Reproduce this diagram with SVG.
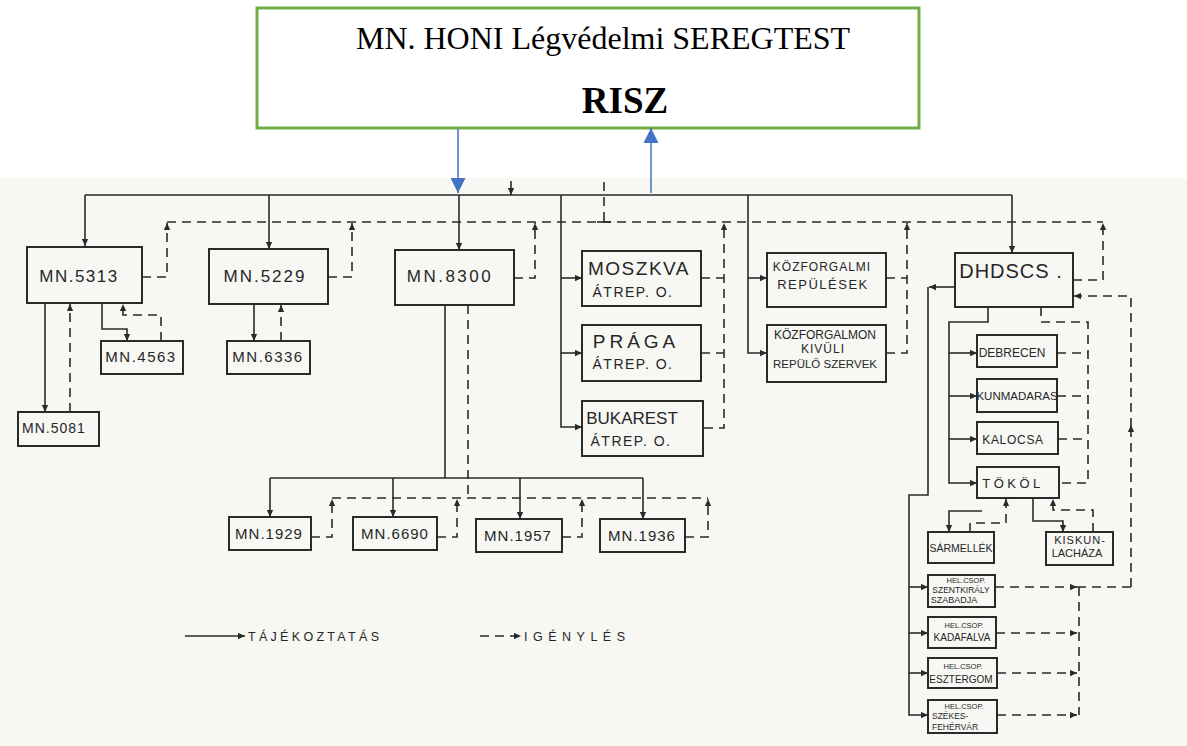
<svg xmlns="http://www.w3.org/2000/svg" width="1187" height="746" viewBox="0 0 1187 746">
<defs>
<style>
.bx{fill:none;stroke:#2a2a2a;stroke-width:2}
.s{fill:none;stroke:#2a2a2a;stroke-width:1.6}
.d{fill:none;stroke:#2a2a2a;stroke-width:1.6;stroke-dasharray:9 6}
.t{font-family:"Liberation Sans","DejaVu Sans",sans-serif;fill:#262626;text-anchor:middle}
.tl{font-family:"Liberation Sans","DejaVu Sans",sans-serif;fill:#262626}
.blue{fill:none;stroke:#4472C4;stroke-width:1.5}
</style>
<marker id="ah" viewBox="0 0 10 10" refX="10" refY="5" markerWidth="8" markerHeight="7" markerUnits="userSpaceOnUse" orient="auto"><path d="M0,0.5 L10,5 L0,9.5 z" fill="#2a2a2a"/></marker>
<marker id="bh" viewBox="0 0 10 10" refX="10" refY="5" markerWidth="15" markerHeight="15" markerUnits="userSpaceOnUse" orient="auto"><path d="M0,0 L10,5 L0,10 z" fill="#4472C4"/></marker>
</defs>
<rect x="0" y="0" width="1187" height="746" fill="#ffffff"/>
<rect x="0" y="178" width="1187" height="568" fill="#f7f7f4"/>

<g id="risz">
<rect x="257" y="8" width="662" height="120" fill="#ffffff" stroke="#70AD47" stroke-width="3"/>
<text x="603" y="49" font-family="Liberation Serif,serif" font-size="32" text-anchor="middle" fill="#000">MN. HONI Légvédelmi SEREGTEST</text>
<text x="625" y="113" font-family="Liberation Serif,serif" font-size="37" font-weight="bold" text-anchor="middle" fill="#000">RISZ</text>
</g>

<g id="connectors">
<path class="blue" d="M458,129 V193" marker-end="url(#bh)"/>
<path class="blue" d="M651,193 V128" marker-end="url(#bh)"/>

<path class="s" d="M85,195 H1012"/>
<path class="s" d="M85,195 V246" marker-end="url(#ah)"/>
<path class="s" d="M269,195 V249" marker-end="url(#ah)"/>
<path class="s" d="M459,195 V250" marker-end="url(#ah)"/>
<path class="s" d="M1012,195 V253" marker-end="url(#ah)"/>
<path class="s" d="M511,181 V195" marker-end="url(#ah)"/>
<path class="s" d="M561,195 V427 H582" marker-end="url(#ah)"/>
<path class="s" d="M561,278 H582" marker-end="url(#ah)"/>
<path class="s" d="M561,353 H582" marker-end="url(#ah)"/>
<path class="s" d="M748,195 V353 H767" marker-end="url(#ah)"/>
<path class="s" d="M748,278 H767" marker-end="url(#ah)"/>

<path class="s" d="M45,303 V412" marker-end="url(#ah)"/>
<path class="s" d="M102,303 V329 H127 V341" marker-end="url(#ah)"/>
<path class="s" d="M254,304 V341" marker-end="url(#ah)"/>

<path class="s" d="M445,305 V478"/>
<path class="s" d="M270,478 H643"/>
<path class="s" d="M270,478 V517" marker-end="url(#ah)"/>
<path class="s" d="M393,478 V517" marker-end="url(#ah)"/>
<path class="s" d="M520,478 V519" marker-end="url(#ah)"/>
<path class="s" d="M643,478 V519" marker-end="url(#ah)"/>

<path class="s" d="M955,287 H929" marker-end="url(#ah)"/>
<path class="s" d="M928,287 V495 H909 V715 H928" marker-end="url(#ah)"/>
<path class="s" d="M909,587 H928" marker-end="url(#ah)"/>
<path class="s" d="M909,633 H928" marker-end="url(#ah)"/>
<path class="s" d="M909,673 H928" marker-end="url(#ah)"/>
<path class="s" d="M988,307 V322 H949 V483 H977" marker-end="url(#ah)"/>
<path class="s" d="M949,353 H977" marker-end="url(#ah)"/>
<path class="s" d="M949,396 H977" marker-end="url(#ah)"/>
<path class="s" d="M949,439 H977" marker-end="url(#ah)"/>
<path class="s" d="M982,511 H949 V532" marker-end="url(#ah)"/>
<path class="s" d="M1033,498 V521 H1063 V532" marker-end="url(#ah)"/>

<path class="d" d="M167,222 H1103"/>
<path class="d" d="M142,277 H167 V223" marker-end="url(#ah)"/>
<path class="d" d="M328,277 H352 V223" marker-end="url(#ah)"/>
<path class="d" d="M514,278 H535 V223" marker-end="url(#ah)"/>
<path class="d" d="M604,182 V222"/>
<path class="s" d="M597,222 H611"/>
<path class="d" d="M701,278 H724"/>
<path class="d" d="M701,353 H724"/>
<path class="d" d="M704,428 H724 V223" marker-end="url(#ah)"/>
<path class="d" d="M886,278 H907"/>
<path class="d" d="M886,353 H907 V223" marker-end="url(#ah)"/>
<path class="d" d="M1073,280 H1103 V223" marker-end="url(#ah)"/>
<path class="d" d="M1131,587 V425" marker-end="url(#ah)"/>
<path class="d" d="M1131,427 V296 H1074" marker-end="url(#ah)"/>
<path class="d" d="M995,587 H1077" marker-end="url(#ah)"/>
<path class="d" d="M1077,587 H1131"/>
<path class="d" d="M996,633 H1077" marker-end="url(#ah)"/>
<path class="d" d="M997,673 H1077" marker-end="url(#ah)"/>
<path class="d" d="M997,715 H1077" marker-end="url(#ah)"/>
<path class="d" d="M1079,587 V715"/>
<path class="d" d="M1041,307 V322 H1088 V483 H1059"/>
<path class="d" d="M1057,353 H1088"/>
<path class="d" d="M1057,396 H1088"/>
<path class="d" d="M1058,439 H1088"/>
<path class="d" d="M70,412 V304" marker-end="url(#ah)"/>
<path class="d" d="M161,341 V315 H123 V304" marker-end="url(#ah)"/>
<path class="d" d="M281,341 V305" marker-end="url(#ah)"/>
<path class="d" d="M468,305 V498"/>
<path class="d" d="M332,498 H708"/>
<path class="d" d="M311,537 H332 V499" marker-end="url(#ah)"/>
<path class="d" d="M437,537 H457 V499" marker-end="url(#ah)"/>
<path class="d" d="M562,537 H582 V499" marker-end="url(#ah)"/>
<path class="d" d="M685,537 H708 V499" marker-end="url(#ah)"/>
<path class="d" d="M970,532 V523 H1006 V499" marker-end="url(#ah)"/>
<path class="d" d="M1093,532 V510 H1053 V499" marker-end="url(#ah)"/>
</g>

<g id="mn5313"><rect class="bx" x="27" y="247" width="115" height="56"/><text class="t" x="79" y="282" font-size="17" letter-spacing="1.5">MN.5313</text></g>
<g id="mn5229"><rect class="bx" x="209" y="249" width="119" height="55"/><text class="t" x="265" y="282" font-size="17" letter-spacing="2">MN.5229</text></g>
<g id="mn8300"><rect class="bx" x="395" y="250" width="119" height="55"/><text class="t" x="450" y="282" font-size="17" letter-spacing="2.5">MN.8300</text></g>
<g id="mn4563"><rect class="bx" x="101" y="341" width="82" height="33"/><text class="t" x="141" y="362" font-size="15" letter-spacing="1.5">MN.4563</text></g>
<g id="mn6336"><rect class="bx" x="227" y="341" width="83" height="33"/><text class="t" x="268" y="362" font-size="15" letter-spacing="1.5">MN.6336</text></g>
<g id="mn5081"><rect class="bx" x="18" y="412" width="81" height="34"/><text class="t" x="54" y="433" font-size="14" letter-spacing="1">MN.5081</text></g>

<g id="mn1929"><rect class="bx" x="229" y="517" width="82" height="33"/><text class="t" x="269" y="539" font-size="15" letter-spacing="1">MN.1929</text></g>
<g id="mn6690"><rect class="bx" x="353" y="517" width="84" height="33"/><text class="t" x="395" y="539" font-size="15" letter-spacing="1">MN.6690</text></g>
<g id="mn1957"><rect class="bx" x="476" y="519" width="86" height="33"/><text class="t" x="518" y="541" font-size="15" letter-spacing="1">MN.1957</text></g>
<g id="mn1936"><rect class="bx" x="600" y="519" width="85" height="33"/><text class="t" x="642" y="541" font-size="15" letter-spacing="1">MN.1936</text></g>

<g id="moszkva"><rect class="bx" x="582" y="251" width="119" height="55"/><text class="t" x="639" y="275" font-size="19" letter-spacing="1.5">MOSZKVA</text><text class="t" x="633" y="297" font-size="14" letter-spacing="1.5">ÁTREP. O.</text></g>
<g id="praga"><rect class="bx" x="582" y="325" width="119" height="56"/><text class="t" x="636" y="348" font-size="19" letter-spacing="4">PRÁGA</text><text class="t" x="633" y="369" font-size="14" letter-spacing="1.5">ÁTREP. O.</text></g>
<g id="bukarest"><rect class="bx" x="582" y="401" width="121" height="55"/><text class="t" x="632" y="424" font-size="17">BUKAREST</text><text class="t" x="631" y="446" font-size="14" letter-spacing="1.5">ÁTREP. O.</text></g>

<g id="kozforgalmi"><rect class="bx" x="767" y="253" width="119" height="54"/><text class="t" x="822" y="271" font-size="12" letter-spacing="1">KÖZFORGALMI</text><text class="t" x="823" y="289" font-size="13" letter-spacing="1.5">REPÜLÉSEK</text></g>
<g id="kozforgalmon"><rect class="bx" x="767" y="325" width="119" height="57"/><text class="t" x="825" y="339" font-size="12">KÖZFORGALMON</text><text class="t" x="823" y="353" font-size="12" letter-spacing="1">KIVÜLI</text><text class="t" x="825" y="368" font-size="11.5">REPÜLŐ SZERVEK</text></g>

<g id="dhdscs"><rect class="bx" x="955" y="253" width="118" height="54"/><text class="t" x="1011" y="278" font-size="20" letter-spacing="1">DHDSCS .</text></g>
<g id="debrecen"><rect class="bx" x="977" y="335" width="80" height="32"/><text class="t" x="1012" y="357" font-size="12">DEBRECEN</text></g>
<g id="kunmadaras"><rect class="bx" x="977" y="379" width="80" height="33"/><text class="t" x="1017" y="400" font-size="11.5">KUNMADARAS</text></g>
<g id="kalocsa"><rect class="bx" x="977" y="422" width="81" height="32"/><text class="t" x="1013" y="444" font-size="12" letter-spacing="0.7">KALOCSA</text></g>
<g id="tokol"><rect class="bx" x="977" y="467" width="82" height="31"/><text class="t" x="1013" y="488" font-size="13" letter-spacing="3.5">TÖKÖL</text></g>
<g id="sarmellek"><rect class="bx" x="928" y="532" width="66" height="31"/><text class="t" x="961" y="552" font-size="10.5">SÁRMELLÉK</text></g>
<g id="kiskunlachaza"><rect class="bx" x="1046" y="532" width="67" height="33"/><text class="t" x="1080" y="544" font-size="11" letter-spacing="1">KISKUN-</text><text class="t" x="1077" y="557" font-size="11">LACHÁZA</text></g>

<g id="szentkiraly"><rect class="bx" x="928" y="575" width="67" height="32"/><text class="t" x="966" y="583" font-size="7.5">HEL.CSOP.</text><text class="t" x="961" y="593" font-size="8.5">SZENTKIRÁLY</text><text class="t" x="954" y="603" font-size="9">SZABADJA</text></g>
<g id="kadafalva"><rect class="bx" x="928" y="617" width="68" height="31"/><text class="t" x="964" y="628" font-size="7.5">HEL.CSOP.</text><text class="t" x="962" y="641" font-size="10">KADAFALVA</text></g>
<g id="esztergom"><rect class="bx" x="928" y="658" width="69" height="30"/><text class="t" x="963" y="669" font-size="7.5">HEL.CSOP.</text><text class="t" x="961" y="683" font-size="10">ESZTERGOM</text></g>
<g id="szekesfehervar"><rect class="bx" x="928" y="700" width="69" height="33"/><text class="t" x="964" y="709" font-size="7.5">HEL.CSOP.</text><text class="tl" x="932" y="719" font-size="8.5">SZÉKES-</text><text class="tl" x="932" y="730" font-size="8.5">FEHÉRVÁR</text></g>

<g id="legend">
<path class="s" d="M185,636 H245" marker-end="url(#ah)"/>
<text class="tl" x="248" y="641" font-size="12.5" letter-spacing="3.3">TÁJÉKOZTATÁS</text>
<path class="d" d="M480,636 H521" marker-end="url(#ah)"/>
<text class="tl" x="524" y="641" font-size="12.5" letter-spacing="5.5">IGÉNYLÉS</text>
</g>
</svg>
